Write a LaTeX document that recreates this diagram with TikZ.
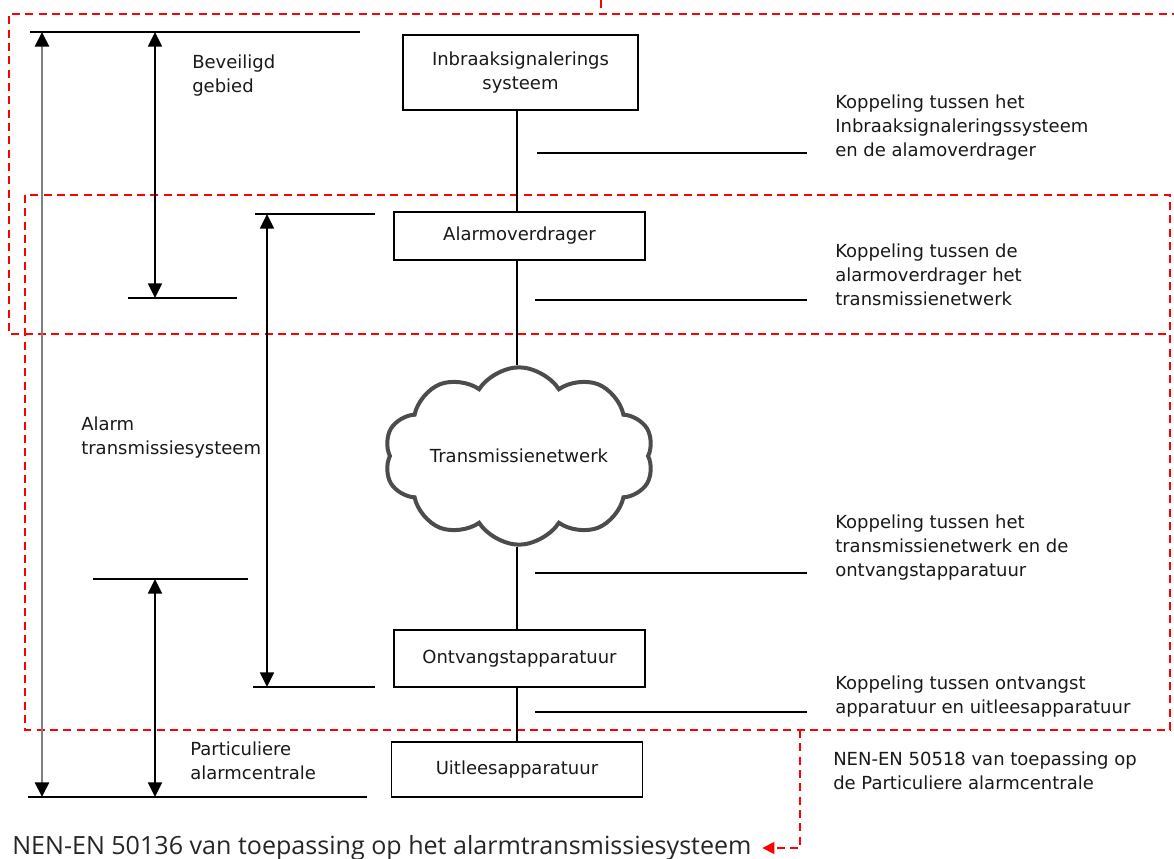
\documentclass[tikz,border=0pt]{standalone}
\usepackage{fontspec}
\setmainfont{DejaVu Sans}
\newfontfamily\nenfont{Open Sans}
\usetikzlibrary{arrows.meta,shapes.symbols}

\begin{document}
\begin{tikzpicture}[x=0.75pt,y=-0.75pt,
  txt/.style={font=\fontsize{13.5}{18}\selectfont, text=black!90},
  box/.style={draw=black, line width=1.2pt, inner sep=0pt, align=center, txt},
  lbl/.style={anchor=west, inner sep=0pt, align=left, txt},
  link/.style={draw=black, line width=1.1pt},
  dim/.style={draw=black, line width=1.2pt},
  dimarrow/.style={draw=black, line width=1.2pt, {Triangle[width=10.5pt,length=11pt]}-{Triangle[width=10.5pt,length=11pt]}},
  grayarrow/.style={draw=black!50, line width=2pt, {Triangle[width=10.5pt,length=11pt,color=black]}-{Triangle[width=10.5pt,length=11pt,color=black]}},
  reddash/.style={draw=red, line width=1.2pt, dash pattern=on 6pt off 4pt},
]
\useasboundingbox (0,0) rectangle (1174,859);

% red dashed regions
\draw[reddash] (601,0) -- (601,14);
\draw[reddash] (1180,14) -- (9,14) -- (9,334) -- (1170,334);
\draw[reddash] (25,195) rectangle (1170,730);

% boxes
\node[box, minimum width=176pt, minimum height=56pt] (b1) at (520.5,72.5) {Inbraaksignalerings\\systeem};
\node[box, minimum width=188pt, minimum height=36pt] (b2) at (519.5,236) {Alarmoverdrager};
\node[cloud, cloud puffs=10, cloud puff arc=115, draw=black!70, line width=3pt,
      minimum width=202pt, minimum height=133pt, inner sep=0pt, txt, cloud ignores aspect]
      (net) at (519,456) {Transmissienetwerk};
\node[box, minimum width=188pt, minimum height=43pt] (b4) at (519.5,658.5) {Ontvangstapparatuur};
\node[box, minimum width=188pt, minimum height=41pt] (b5) at (517,769.5) {Uitleesapparatuur};

% vertical links
\coordinate (lx) at (517,0);
\draw[link] (lx |- b1.south) -- (lx |- b2.north);
\draw[link] (lx |- b2.south) -- (lx |- net.north);
\draw[link] (lx |- net.south) -- (lx |- b4.north);
\draw[link] (lx |- b4.south) -- (lx |- b5.north);

% right labels
\node[lbl] (k1) at (835,128) {Koppeling tussen het\\Inbraaksignaleringssysteem\\en de alamoverdrager};
\node[lbl] (k2) at (835,275) {Koppeling tussen de\\alarmoverdrager het\\transmissienetwerk};
\node[lbl] (k3) at (835,548) {Koppeling tussen het\\transmissienetwerk en de\\ontvangstapparatuur};
\node[lbl] (k4) at (835,697) {Koppeling tussen ontvangst\\apparatuur en uitleesapparatuur};
\node[lbl] (nen2) at (833,771) {NEN-EN 50518 van toepassing op\\de Particuliere alarmcentrale};

\coordinate (p1) at (537,153); \coordinate (q1) at (807,153);
\coordinate (p2) at (535,300); \coordinate (q2) at (807,300);
\coordinate (p3) at (535,573); \coordinate (q3) at (807,573);
\coordinate (p4) at (535,712); \coordinate (q4) at (807,712);
\draw[link] (p1) -- (q1);
\draw[link] (p2) -- (q2);
\draw[link] (p3) -- (q3);
\draw[link] (p4) -- (q4);

% left labels
\node[lbl] (bev) at (192,76) {Beveiligd\\gebied};
\node[lbl] (alarm) at (81,438) {Alarm\\transmissiesysteem};
\node[lbl] (part) at (190,761) {Particuliere\\alarmcentrale};

% dimension lines
\coordinate (topL) at (30,32); \coordinate (topR) at (360,32);
\coordinate (botL) at (28,797); \coordinate (botR) at (367,797);
\coordinate (bgL) at (128,298); \coordinate (bgR) at (237,298);
\coordinate (atL) at (255,214); \coordinate (atR) at (375,214);
\coordinate (abL) at (253,687); \coordinate (abR) at (375,687);
\coordinate (pcL) at (93,579); \coordinate (pcR) at (248,579);
\draw[dim] (topL) -- (topR);
\draw[dim] (botL) -- (botR);
\draw[dim] (bgL) -- (bgR);
\draw[dim] (atL) -- (atR);
\draw[dim] (abL) -- (abR);
\draw[dim] (pcL) -- (pcR);

\coordinate (g1) at (42,32); \coordinate (g2) at (42,797);
\draw[grayarrow] (g1) -- (g2);
\coordinate (a1) at (155,32); \coordinate (a2) at (155,298);
\draw[dimarrow] (a1) -- (a2);
\coordinate (c1) at (267,214); \coordinate (c2) at (267,687);
\draw[dimarrow] (c1) -- (c2);
\coordinate (d1) at (155,579); \coordinate (d2) at (155,797);
\draw[dimarrow] (d1) -- (d2);

% bottom text and red arrow
\node[anchor=west, inner sep=0pt, font=\nenfont\fontsize{18.8}{22}\selectfont, text=black!85] (nen1) at (12,848) {NEN-EN 50136 van toepassing op het alarmtransmissiesysteem};
\coordinate (r1) at (800,730); \coordinate (r2) at (800,848);
\draw[reddash, -{Triangle[width=9pt,length=9pt]}] (r1) -- (r2) -- ([xshift=8pt]nen1.east);
\end{tikzpicture}
\end{document}
